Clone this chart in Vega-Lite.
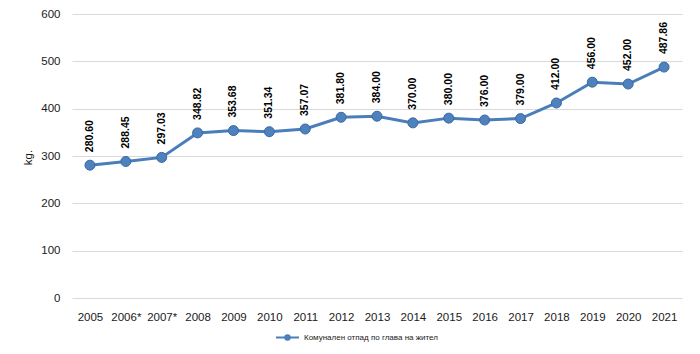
{
  "$schema": "https://vega.github.io/schema/vega-lite/v6.json",
  "width": 610,
  "height": 284,
  "autosize": {"type": "none"},
  "padding": {"left": 72, "top": 14, "right": 18, "bottom": 56},
  "background": "white",
  "data": {"values": [
    {"year": "2005", "value": 280.60, "series": "Комунален отпад по глава на жител"},
    {"year": "2006*", "value": 288.45, "series": "Комунален отпад по глава на жител"},
    {"year": "2007*", "value": 297.03, "series": "Комунален отпад по глава на жител"},
    {"year": "2008", "value": 348.82, "series": "Комунален отпад по глава на жител"},
    {"year": "2009", "value": 353.68, "series": "Комунален отпад по глава на жител"},
    {"year": "2010", "value": 351.34, "series": "Комунален отпад по глава на жител"},
    {"year": "2011", "value": 357.07, "series": "Комунален отпад по глава на жител"},
    {"year": "2012", "value": 381.80, "series": "Комунален отпад по глава на жител"},
    {"year": "2013", "value": 384.00, "series": "Комунален отпад по глава на жител"},
    {"year": "2014", "value": 370.00, "series": "Комунален отпад по глава на жител"},
    {"year": "2015", "value": 380.00, "series": "Комунален отпад по глава на жител"},
    {"year": "2016", "value": 376.00, "series": "Комунален отпад по глава на жител"},
    {"year": "2017", "value": 379.00, "series": "Комунален отпад по глава на жител"},
    {"year": "2018", "value": 412.00, "series": "Комунален отпад по глава на жител"},
    {"year": "2019", "value": 456.00, "series": "Комунален отпад по глава на жител"},
    {"year": "2020", "value": 452.00, "series": "Комунален отпад по глава на жител"},
    {"year": "2021", "value": 487.86, "series": "Комунален отпад по глава на жител"}
  ]},
  "encoding": {
    "x": {
      "field": "year", "type": "nominal", "sort": null,
      "scale": {"paddingInner": 0, "paddingOuter": 0},
      "axis": {
        "title": null, "labelAngle": 0, "domain": false, "ticks": false,
        "labelPadding": 13, "labelFont": "Liberation Sans", "labelFontSize": 11.5,
        "labelColor": "#1a1a1a"
      }
    },
    "y": {
      "field": "value", "type": "quantitative",
      "scale": {"domain": [0, 600], "nice": false},
      "axis": {
        "title": "kg.", "values": [0, 100, 200, 300, 400, 500, 600],
        "domain": false, "ticks": false, "gridColor": "#d9d9d9", "gridWidth": 1.2,
        "labelPadding": 12, "labelFont": "Liberation Sans", "labelFontSize": 11.5,
        "labelColor": "#1a1a1a",
        "titleFont": "Liberation Sans", "titleFontSize": 11.5, "titleFontWeight": "normal",
        "titleColor": "#1a1a1a", "titleX": -44, "titleY": 143, "titleAngle": -90,
        "titleAlign": "center", "titleBaseline": "middle"
      }
    }
  },
  "layer": [
    {
      "mark": {"type": "line", "color": "#4a7ebb", "strokeWidth": 3},
      "encoding": {
        "color": {
          "field": "series", "type": "nominal",
          "scale": {"range": ["#4a7ebb"]},
          "legend": {
            "title": null, "orient": "none", "legendX": 203, "legendY": 311,
            "padding": 0,
            "symbolType": "M-1,0L-0.2,0M0.2,0L1,0M-0.2,0A0.2,0.2 0 1,0 0.2,0A0.2,0.2 0 1,0 -0.2,0",
            "symbolSize": 529, "symbolStrokeWidth": 1.8, "symbolFillColor": "#4f81bd",
            "symbolStrokeColor": "#4a7ebb",
            "labelFont": "Liberation Sans", "labelFontSize": 8, "labelColor": "#1a1a1a",
            "labelOffset": 4
          }
        }
      }
    },
    {
      "mark": {"type": "point", "filled": true, "size": 100, "fill": "#4f81bd", "stroke": "#3a6aa5", "strokeWidth": 1, "opacity": 1}
    },
    {
      "mark": {
        "type": "text", "angle": -90, "align": "left", "baseline": "middle",
        "dx": 13, "font": "Liberation Sans", "fontSize": 10.5, "fontWeight": "bold",
        "color": "#000000"
      },
      "encoding": {
        "text": {"field": "value", "type": "quantitative", "format": ".2f"}
      }
    }
  ],
  "config": {
    "view": {"stroke": null}
  }
}
